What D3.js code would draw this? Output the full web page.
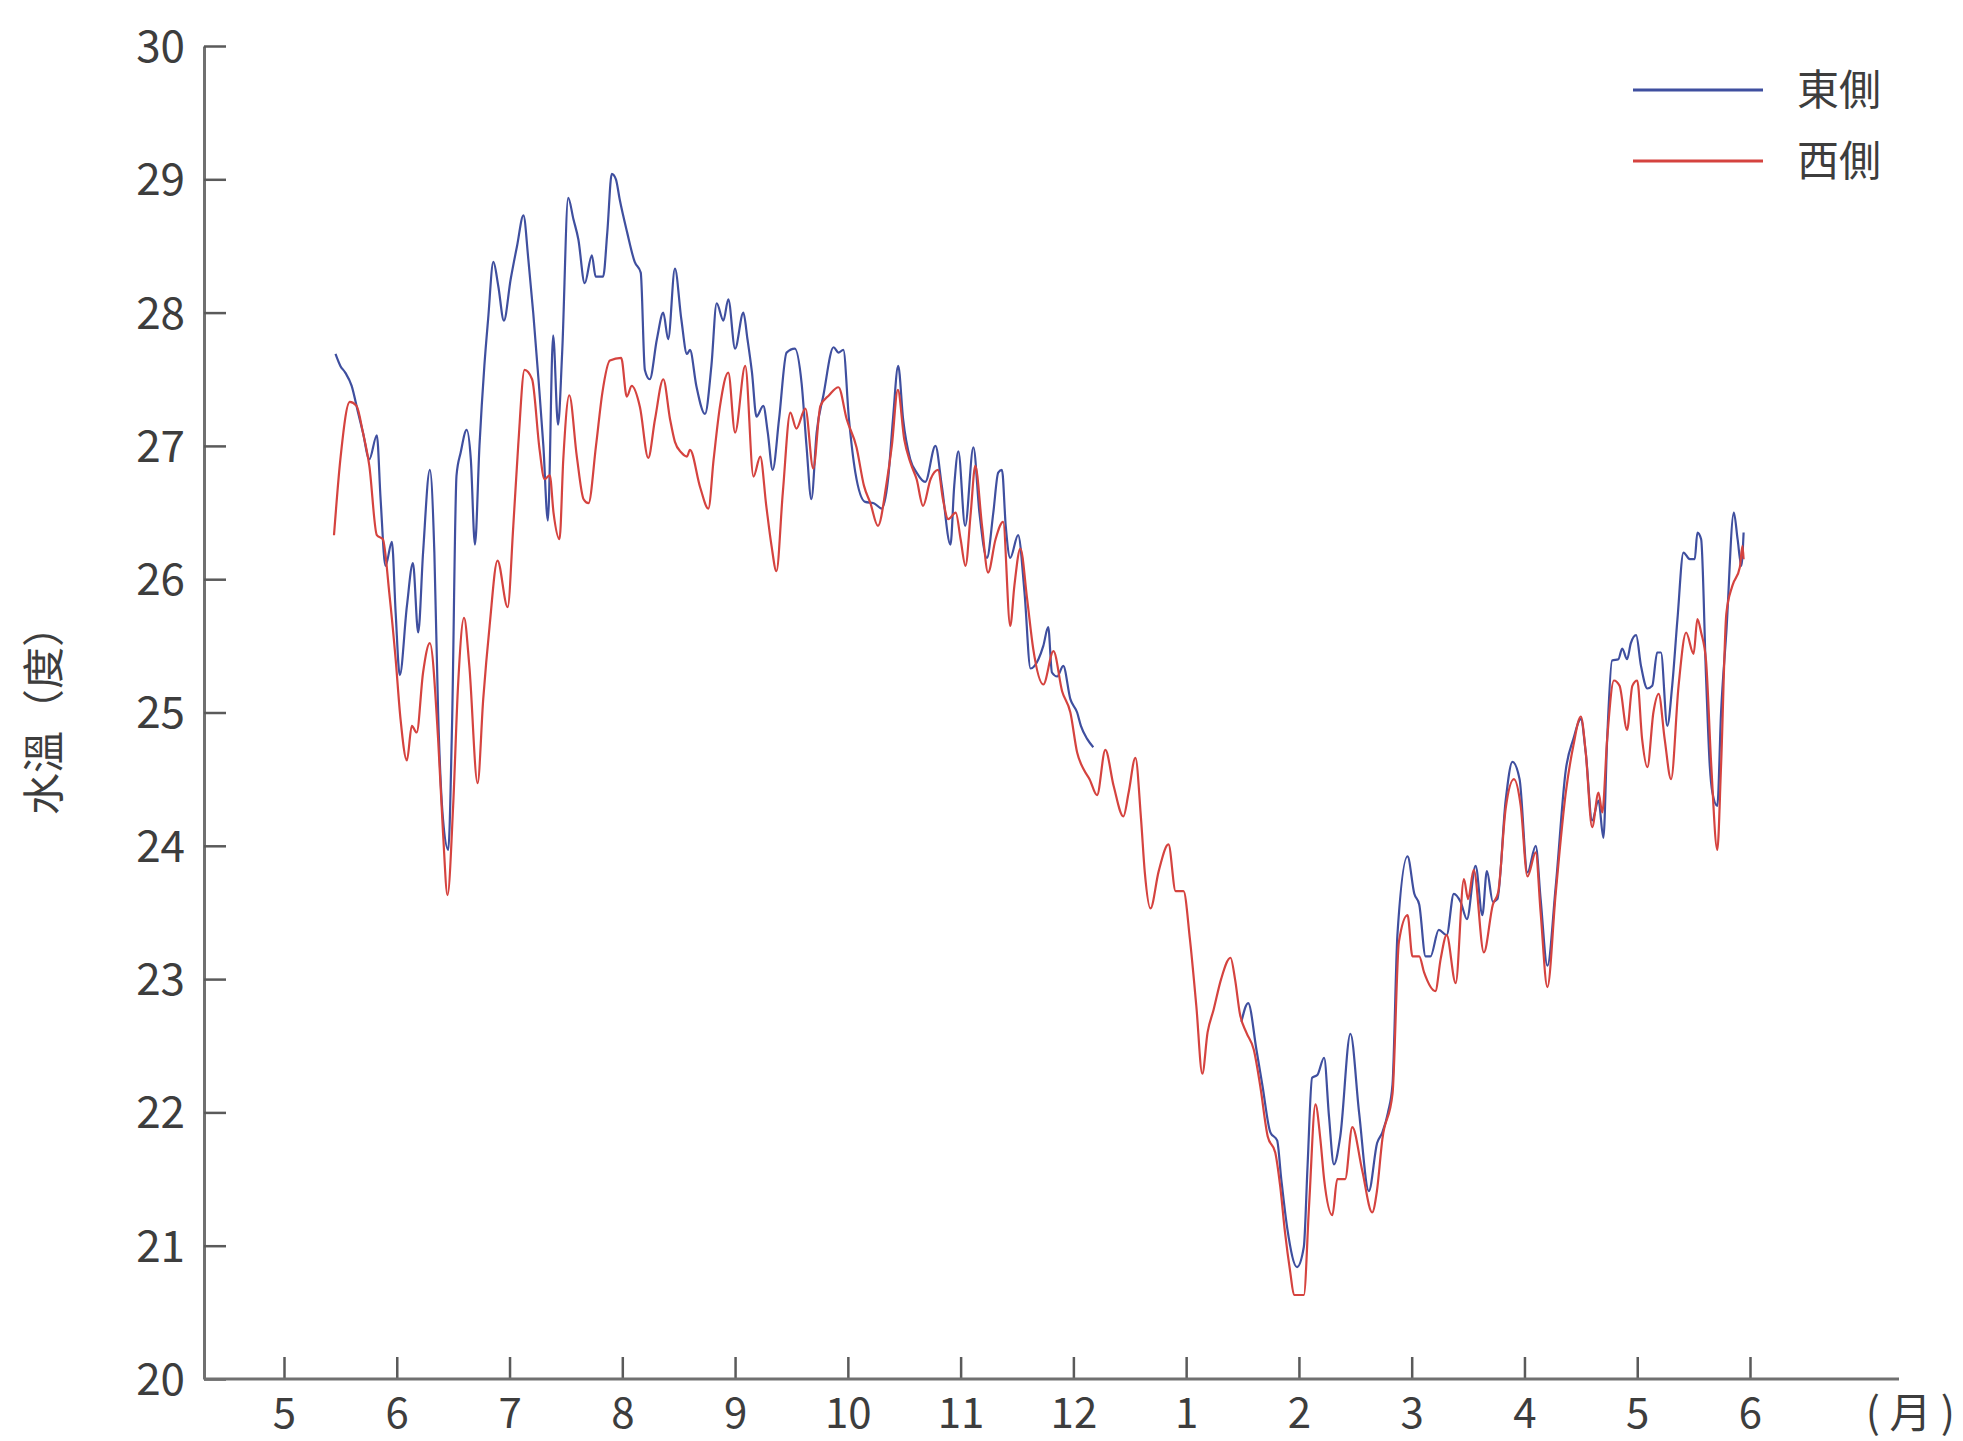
<!DOCTYPE html>
<html>
<head>
<meta charset="utf-8">
<script src="https://cdn.jsdelivr.net/npm/d3@7"></script>
<style>
  body { margin: 0; background: #fff; }
  text { font-family: "Noto Sans CJK TC", "Noto Sans", sans-serif; fill: #3d3d3d; }
</style>
</head>
<body>
<svg id="chart"></svg>
<script>
// Water temperature, east vs west side, one year from May to the next June
// x values are days since the start of May on a 30-day-per-month axis

let monthLabels = ['5', '6', '7', '8', '9', '10', '11', '12', '1', '2', '3', '4', '5', '6'];
let yTicks = [20, 21, 22, 23, 24, 25, 26, 27, 28, 29, 30];

// 西側 (west, red)
let westDays = [13.3, 15, 17.5, 19.3, 21, 22.7, 24.7, 26.3, 28, 29.7, 31, 32.7, 34, 35.3, 37, 38.8, 41, 42.3, 43.5, 45,
    46.3, 47.9, 49.3, 51.5, 53, 54.7, 56.8, 59.5, 61, 62.3, 64, 66, 68, 69.3, 70.7, 71.7, 73.3, 74.3, 75.9, 77.9,
    79.7, 81, 83, 84.7, 86.7, 89.7, 91.2, 92.5, 94.7, 96.9, 98.7, 100.9, 102.7, 104, 105.7, 107.2, 108, 110.7, 112.9, 114.3,
    116, 118.2, 120, 122.7, 124.9, 126.7, 128.3, 129.7, 131, 132.7, 134.7, 136.3, 138.7, 140.8, 142.7, 145, 147.5, 149.7, 152.3, 154.3,
    156, 158, 160.3, 161.7, 163.3, 165, 166.7, 168.3, 170, 172, 174, 175.3, 176.7, 178.7, 180, 181.3, 182.7, 183.9, 185.7, 187.3,
    189.3, 191.3, 193.2, 194.3, 195.9, 197.7, 199.3, 202, 204.7, 207, 209.2, 211, 212.8, 214.3, 216.3, 218.5, 220.7, 223.3, 224.7, 226.5,
    228, 229, 230.5, 232.7, 235.3, 237.2, 239.3, 241, 242.7, 244.3, 245.7, 247.3, 249.3, 251.8, 253, 254.3, 256, 258, 259.7, 261.7,
    263.7, 265, 266.3, 267.7, 268.7, 271.3, 272.7, 274.4, 275.7, 276.7, 278.9, 280.2, 282.3, 284.2, 286.8, 289.5, 290.7, 292.2, 294.9, 296.6,
    298.9, 300.2, 302, 303.3, 306.3, 307.7, 309.3, 311.7, 313.9, 315, 316.5, 319.2, 321.6, 323, 325, 327.2, 329, 330.8, 333, 334.3,
    336.1, 338.3, 341, 343, 345, 346.3, 348, 349.7, 350.7, 352, 353.8, 355.3, 357.3, 358.7, 360, 361.3, 362.7, 364.3, 365.7, 367.3,
    369, 371, 373, 375, 376, 377, 378.3, 379.7, 381.3, 382.3, 383.7, 385.3, 387.3, 388, 388.3];
let westTemps = [26.33, 26.9, 27.33, 27.3, 27.1, 26.85, 26.33, 26.3, 25.9, 25.4, 24.95, 24.64, 24.9, 24.85, 25.3, 25.52, 24.8, 24.1, 23.63, 24.3,
    25.2, 25.71, 25.35, 24.47, 25.1, 25.65, 26.14, 25.79, 26.4, 27.0, 27.57, 27.5, 26.97, 26.75, 26.78, 26.5, 26.3, 26.9, 27.38, 26.92,
    26.6, 26.57, 27.0, 27.4, 27.64, 27.66, 27.37, 27.45, 27.29, 26.91, 27.2, 27.5, 27.2, 27.03, 26.95, 26.92, 26.97, 26.69, 26.53, 26.9,
    27.3, 27.55, 27.1, 27.6, 26.77, 26.92, 26.55, 26.25, 26.06, 26.65, 27.25, 27.13, 27.28, 26.83, 27.3, 27.38, 27.44, 27.2, 26.99, 26.7,
    26.57, 26.4, 26.72, 27.0, 27.42, 27.05, 26.87, 26.75, 26.55, 26.75, 26.82, 26.6, 26.45, 26.5, 26.3, 26.1, 26.5, 26.85, 26.4, 26.05,
    26.3, 26.43, 25.65, 25.95, 26.23, 25.85, 25.48, 25.21, 25.46, 25.16, 25.0, 24.7, 24.57, 24.5, 24.38, 24.72, 24.45, 24.22, 24.4, 24.66,
    24.2, 23.8, 23.53, 23.81, 24.01, 23.66, 23.66, 23.3, 22.8, 22.29, 22.6, 22.77, 23.0, 23.16, 23.0, 22.74, 22.6, 22.47, 22.2, 21.82,
    21.7, 21.45, 21.1, 20.8, 20.63, 20.63, 21.3, 22.06, 21.8, 21.5, 21.23, 21.5, 21.5, 21.89, 21.57, 21.25, 21.4, 21.8, 22.14, 23.28,
    23.48, 23.17, 23.17, 23.05, 22.91, 23.15, 23.33, 22.97, 23.75, 23.6, 23.82, 23.2, 23.56, 23.65, 24.28, 24.5, 24.3, 23.77, 23.95, 23.5,
    22.94, 23.64, 24.4, 24.75, 24.97, 24.7, 24.14, 24.4, 24.25, 24.8, 25.24, 25.2, 24.87, 25.2, 25.24, 24.8, 24.59, 25.0, 25.14, 24.8,
    24.5, 25.2, 25.6, 25.44, 25.7, 25.6, 25.39, 24.6, 23.97, 24.6, 25.74, 25.95, 26.09, 26.25, 26.15];

// 東側 (east, blue); null marks the stretch with no record
let eastDays = [13.7, 15, 16.3, 18, 19.7, 21, 22.7, 24.7, 25.7, 27, 28.7, 29.7, 30.8, 32.7, 34.3, 35.7, 37, 38.8, 40, 41,
    42.3, 43.7, 44.7, 45.9, 47, 48.6, 49.7, 50.8, 52, 53.3, 54.3, 55.7, 57, 58.5, 60.3, 62, 63.7, 65, 66.3, 67.7,
    69, 70.2, 71.6, 72.9, 74, 75.6, 77, 78.3, 80, 81.9, 82.9, 84.9, 86, 87.2, 88.3, 89.3, 91.3, 93.3, 94.9, 96,
    97.3, 99.2, 100.9, 102.2, 104, 105.7, 107.2, 108, 109.7, 112, 113.7, 115.1, 116.9, 118.2, 120, 122.2, 123.3, 124.5, 125.7, 127.5,
    128.7, 130, 131.7, 133.7, 135.9, 137.7, 139, 140.3, 141.7, 143.5, 146.2, 147.5, 148.8, 150.3, 152, 154.6, 156.9, 159, 160.7, 162,
    163.4, 164.7, 166.6, 168.3, 170.6, 173.3, 175, 177.3, 178.3, 179.4, 181.2, 183.4, 185, 187, 188.7, 190, 191, 192, 193.2, 195.3,
    197, 198.6, 200.7, 202, 203.3, 204.3, 205.7, 207.3, 209.2, 211, 212, 213.7, 215.3, 235,
    254.7, 256.5, 258.7, 260.3, 262.4, 264.2, 265.3, 266.9, 269.5, 271.3, 272.3, 273.5, 274.9, 276.7, 278, 279.3, 281, 283.7, 286, 288.6,
    290.8, 292.2, 293.7, 294.9, 296.2, 298.9, 300.7, 302, 303.7, 305, 307.2, 309.3, 311.2, 313, 314.7, 317, 318.8, 320, 321.6, 322.8,
    325, 326.8, 328.7, 330.8, 333, 334.3, 336.1, 338.3, 341, 343, 345, 346.3, 348, 349.7, 351, 352, 353.3, 355, 356, 357.3,
    358.3, 359.7, 361, 362.7, 364, 365.3, 366.3, 368, 369.3, 370.7, 372.3, 374, 375.3, 376, 377, 378.3, 379.3, 380, 381.3, 382.3,
    383.7, 385.7, 386.7, 387.7, 388.3];
let eastTemps = [27.69, 27.6, 27.55, 27.45, 27.25, 27.1, 26.9, 27.08, 26.6, 26.1, 26.28, 25.75, 25.28, 25.8, 26.12, 25.6, 26.2, 26.82, 26.2, 25.0,
    24.2, 23.97, 24.9, 26.78, 26.95, 27.12, 26.9, 26.26, 27.0, 27.6, 27.95, 28.38, 28.2, 27.94, 28.25, 28.5, 28.73, 28.4, 28.0, 27.5,
    27.0, 26.44, 27.83, 27.16, 27.7, 28.86, 28.7, 28.55, 28.22, 28.43, 28.27, 28.27, 28.6, 29.04, 29.0, 28.85, 28.6, 28.38, 28.3, 27.57,
    27.5, 27.8, 28.0, 27.8, 28.33, 27.95, 27.69, 27.72, 27.45, 27.24, 27.6, 28.07, 27.94, 28.1, 27.73, 28.0, 27.8, 27.55, 27.22, 27.3,
    27.1, 26.82, 27.2, 27.7, 27.73, 27.47, 27.0, 26.6, 27.1, 27.38, 27.74, 27.7, 27.72, 27.2, 26.8, 26.58, 26.57, 26.53, 26.75, 27.2,
    27.6, 27.2, 26.9, 26.8, 26.73, 27.0, 26.7, 26.26, 26.7, 26.96, 26.4, 26.99, 26.5, 26.16, 26.5, 26.8, 26.82, 26.4, 26.16, 26.33,
    25.9, 25.33, 25.4, 25.5, 25.64, 25.3, 25.27, 25.35, 25.1, 25.0, 24.9, 24.8, 24.74, null,
    22.68, 22.82, 22.47, 22.2, 21.85, 21.79, 21.5, 21.13, 20.84, 20.99, 21.6, 22.26, 22.28, 22.41, 21.97, 21.61, 21.82, 22.59, 22.0, 21.41,
    21.77, 21.85, 22.0, 22.21, 23.33, 23.92, 23.64, 23.56, 23.17, 23.17, 23.37, 23.33, 23.64, 23.58, 23.45, 23.85, 23.48, 23.81, 23.58, 23.6,
    24.34, 24.63, 24.5, 23.8, 24.0, 23.6, 23.1, 23.69, 24.57, 24.8, 24.95, 24.7, 24.19, 24.34, 24.06, 24.8, 25.39, 25.4, 25.48, 25.4,
    25.52, 25.58, 25.35, 25.18, 25.2, 25.45, 25.45, 24.9, 25.2, 25.7, 26.2, 26.15, 26.15, 26.35, 26.3, 25.27, 24.6, 24.4, 24.3, 25.0,
    25.6, 26.5, 26.3, 26.1, 26.35];

let seriesNames = ['東側', '西側'];
let seriesColors = ['#3f4f9f', '#d5433f'];

let width = 1963;
let height = 1441;

let svg = d3.select('#chart')
    .attr('width', width)
    .attr('height', height);

let axisX0 = 204;    // where the y axis sits
let axisX1 = 1899;   // end of the x axis line
let axisY = 1379;    // where the x axis sits

let x = d3.scaleLinear()
    .domain([0, 390])
    .range([284, 1750]);

let y = d3.scaleLinear()
    .domain([20, 30])
    .range([axisY, 46]);

// y axis, ticks pointing inwards
let yAxis = svg.append('g')
    .attr('transform', `translate(${axisX0},0)`)
    .call(d3.axisLeft(y)
        .tickValues(yTicks)
        .tickSizeInner(-22)
        .tickSizeOuter(0)
        .tickPadding(19));

yAxis.selectAll('text')
    .style('font-size', '44px')
    .attr('dy', '0.35em');

// x axis, ticks pointing up
let xAxis = svg.append('g')
    .attr('transform', `translate(0,${axisY})`)
    .call(d3.axisBottom(x)
        .tickValues(d3.range(0, 391, 30))
        .tickFormat((d, i) => monthLabels[i])
        .tickSizeInner(-22)
        .tickSizeOuter(0)
        .tickPadding(6));

xAxis.select('.domain').remove();
xAxis.selectAll('text')
    .style('font-size', '42px')
    .attr('y', 34)
    .attr('dy', '0.35em');

svg.append('line')
    .attr('x1', axisX0)
    .attr('x2', axisX1)
    .attr('y1', axisY)
    .attr('y2', axisY)
    .attr('stroke', '#707070')
    .attr('stroke-width', 3);

svg.selectAll('.domain')
    .attr('stroke', '#707070')
    .attr('stroke-width', 3);
svg.selectAll('.tick line')
    .attr('stroke', '#5a5a5a')
    .attr('stroke-width', 2.5);
svg.selectAll('.tick text')
    .attr('fill', '#3d3d3d');

// unit label for months
svg.append('text')
    .attr('x', 1955)
    .attr('y', 1413)
    .attr('dy', '0.35em')
    .attr('text-anchor', 'end')
    .style('font-size', '42px')
    .text('( 月 )');

// y axis title
svg.append('text')
    .attr('transform', 'translate(44,710) rotate(-90)')
    .attr('dy', '0.35em')
    .attr('text-anchor', 'middle')
    .style('font-size', '42px')
    .text('水溫（度）');

// lines
let line = d3.line()
    .defined(d => d[1] !== null)
    .x(d => x(d[0]))
    .y(d => y(d[1]))
    .curve(d3.curveMonotoneX);

let eastData = eastDays.map((d, i) => [d, eastTemps[i]]);
let westData = westDays.map((d, i) => [d, westTemps[i]]);

svg.append('path')
    .datum(eastData)
    .attr('fill', 'none')
    .attr('stroke', seriesColors[0])
    .attr('stroke-width', 2.2)
    .attr('stroke-linejoin', 'round')
    .attr('d', line);

svg.append('path')
    .datum(westData)
    .attr('fill', 'none')
    .attr('stroke', seriesColors[1])
    .attr('stroke-width', 2.2)
    .attr('stroke-linejoin', 'round')
    .attr('d', line);

// legend
let legend = svg.append('g');
let legendRows = legend.selectAll('g')
    .data(seriesNames)
    .enter().append('g')
    .attr('transform', (d, i) => `translate(1633,${90 + i * 71})`);

legendRows.append('line')
    .attr('x1', 0)
    .attr('x2', 130)
    .attr('stroke', (d, i) => seriesColors[i])
    .attr('stroke-width', 3);

legendRows.append('text')
    .attr('x', 164)
    .attr('dy', '0.36em')
    .style('font-size', '42px')
    .text(d => d);
</script>
</body>
</html>
